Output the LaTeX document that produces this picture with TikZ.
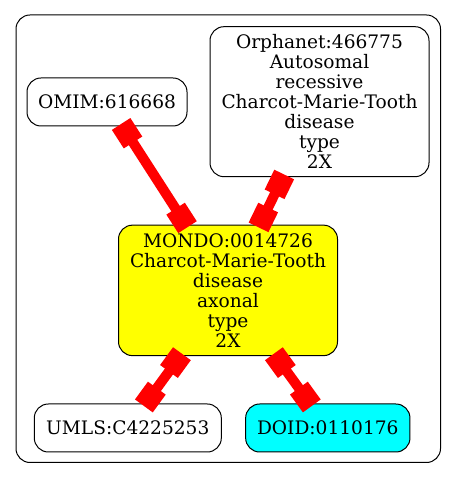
\documentclass[tikz,border=0pt]{standalone}
\usepackage{fontspec}
\setmainfont{DejaVu Serif}
\usetikzlibrary{arrows.meta}
\definecolor{nodeyellow}{RGB}{255,255,0}
\definecolor{nodecyan}{RGB}{0,255,255}
\definecolor{linkred}{RGB}{255,0,0}
\tikzset{
  gnode/.style={draw=black, line width=1pt, rounded corners=14pt, align=center,
    inner sep=0pt, font=\fontsize{18.6}{20}\selectfont},
  cluster/.style={draw=black, line width=1pt, rounded corners=14pt},
  link/.style={draw=linkred, line width=10pt, shorten <=-3pt, shorten >=-3pt,
    {Rectangle[length=22pt,width=22pt]}-{Rectangle[length=22pt,width=22pt]}}
}
\begin{document}
\begin{tikzpicture}[x=1pt,y=1pt]
\useasboundingbox (0,0) rectangle (456,479);
\draw[cluster] (16,464) rectangle (440.5,16.5);
\node[gnode, minimum width=160pt, minimum height=48pt] (omim) at (107,377) {OMIM:616668};
\node[gnode, minimum width=219pt, minimum height=150pt] (orpha) at (319.5,377.3)
  {Orphanet:466775\\Autosomal\\recessive\\Charcot-Marie-Tooth\\disease\\type\\2X};
\node[gnode, fill=nodeyellow, minimum width=219pt, minimum height=130.5pt] (mondo) at (228,188.6)
  {MONDO:0014726\\Charcot-Marie-Tooth\\disease\\axonal\\type\\2X};
\node[gnode, minimum width=187pt, minimum height=48pt] (umls) at (127.8,51) {UMLS:C4225253};
\node[gnode, fill=nodecyan, minimum width=164.3pt, minimum height=48pt] (doid) at (327.8,51) {DOID:0110176};
\draw[link] (omim) -- (mondo);
\draw[link] (orpha) -- (mondo);
\draw[link] (mondo) -- (umls);
\draw[link] (mondo) -- (doid);
\end{tikzpicture}
\end{document}
